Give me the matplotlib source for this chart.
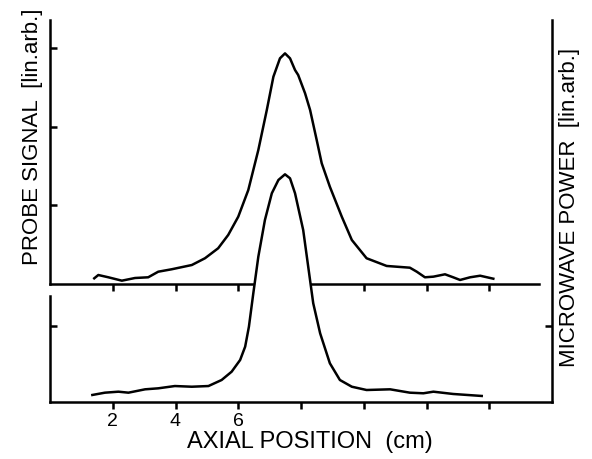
import matplotlib
matplotlib.use('Agg')
import matplotlib.pyplot as plt

plt.rcParams['font.family'] = ['Liberation Sans', 'DejaVu Sans']

# probe signal (upper trace), axial position in cm, signal in lin. arb. units
probe_x = [1.41, 1.54, 1.86, 2.29, 2.71, 3.13, 3.45, 3.88, 4.52, 4.94, 5.36, 5.68,
           6.00, 6.32, 6.64, 6.91, 7.12, 7.33, 7.49, 7.65, 7.81, 7.91, 8.13, 8.29,
           8.50, 8.66, 8.92, 9.30, 9.62, 10.09, 10.73, 11.47, 11.69, 11.95, 12.22,
           12.59, 12.85, 13.07, 13.39, 13.71, 14.13]
probe_y = [0.072, 0.114, 0.085, 0.042, 0.076, 0.085, 0.156, 0.187, 0.241, 0.327,
           0.454, 0.623, 0.855, 1.194, 1.703, 2.211, 2.634, 2.868, 2.931, 2.868,
           2.719, 2.656, 2.423, 2.211, 1.830, 1.534, 1.236, 0.855, 0.559, 0.327,
           0.229, 0.207, 0.156, 0.085, 0.093, 0.123, 0.085, 0.051, 0.085, 0.105, 0.067]

# microwave power (lower trace)
mw_x = [1.35, 1.75, 2.18, 2.50, 3.03, 3.45, 3.98, 4.52, 5.05, 5.47, 5.79, 6.06,
        6.22, 6.34, 6.48, 6.64, 6.85, 7.07, 7.28, 7.49, 7.65, 7.81, 8.07, 8.23,
        8.39, 8.61, 8.92, 9.24, 9.62, 10.09, 10.84, 11.47, 11.90, 12.22, 12.85, 13.76]
mw_y = [0.092, 0.122, 0.135, 0.122, 0.166, 0.179, 0.209, 0.200, 0.209, 0.288,
        0.397, 0.550, 0.724, 0.986, 1.423, 1.902, 2.382, 2.732, 2.906, 2.980,
        2.928, 2.732, 2.251, 1.771, 1.292, 0.899, 0.507, 0.288, 0.200, 0.157,
        0.166, 0.122, 0.114, 0.135, 0.105, 0.079]

x_ticks = [2, 4, 6, 8, 10, 12, 14]
x_labels = ['2', '4', '6', '', '', '', '']
probe_ticks = [1, 2, 3]
mw_ticks = [1, 2, 3, 4, 5]

fig = plt.figure(figsize=(5.92, 4.59), dpi=100)
rect = [50/592, 57/459, 502/592, 382/459]
lw = 1.8

# upper panel: probe signal, its own baseline inside the frame
ax2 = fig.add_axes(rect)
ax2.patch.set_visible(False)
ax2.plot(probe_x, probe_y, 'k-', lw=lw)
ax2.set_xlim(0, 16)
ax2.set_ylim(-1.50, 3.355)
ax2.spines['top'].set_visible(False)
ax2.spines['right'].set_visible(False)
ax2.spines['left'].set_bounds(0, 3.355)
ax2.spines['bottom'].set_position(('data', 0))
ax2.spines['bottom'].set_bounds(0, 15.6)
for s in ax2.spines.values():
    s.set_linewidth(lw)
ax2.set_xticks([2, 4, 6, 10, 12, 14])
ax2.set_yticks(probe_ticks)
ax2.tick_params(axis='x', direction='out', length=5, width=lw, labelbottom=False)
ax2.tick_params(axis='y', direction='in', length=5, width=lw, labelleft=False)

# lower panel: microwave power, full frame on the right and bottom
ax = fig.add_axes(rect, sharex=ax2)
ax.patch.set_visible(False)
ax.fill_between(mw_x, 0, mw_y, color='white', lw=0)
ax.plot(mw_x, mw_y, 'k-', lw=lw)
ax.set_ylim(0, 5)
ax.spines['top'].set_visible(False)
ax.spines['left'].set_bounds(0, 1.39)
for s in ax.spines.values():
    s.set_linewidth(lw)
ax.set_xticks(x_ticks)
ax.set_xticklabels(x_labels)
ax.set_yticks(mw_ticks)
ax.yaxis.set_ticks_position('right')
ax.tick_params(axis='x', direction='out', length=5, width=lw, labelsize=14, pad=3)
ax.tick_params(axis='y', direction='in', length=5, width=lw, labelright=False)

# single tick on the short left segment of the lower panel
ax3 = fig.add_axes(rect, sharex=ax2, sharey=ax)
ax3.patch.set_visible(False)
for s in ax3.spines.values():
    s.set_visible(False)
ax3.yaxis.set_ticks_position('left')
ax3.set_yticks([1])
ax3.tick_params(axis='y', direction='in', length=5, width=lw, labelleft=False)
ax3.tick_params(axis='x', bottom=False, labelbottom=False)

fig.text(33/592, 1 - 137/459, 'PROBE SIGNAL  [lin.arb.]', rotation=90,
         ha='center', va='center', fontsize=16)
fig.text(570/592, 1 - 207/459, 'MICROWAVE POWER  [lin.arb.]', rotation=90,
         ha='center', va='center', fontsize=16)
fig.text(310/592, 1 - 448/459, 'AXIAL POSITION  (cm)', ha='center',
         va='baseline', fontsize=17)

fig.savefig('out.png', dpi=100)
